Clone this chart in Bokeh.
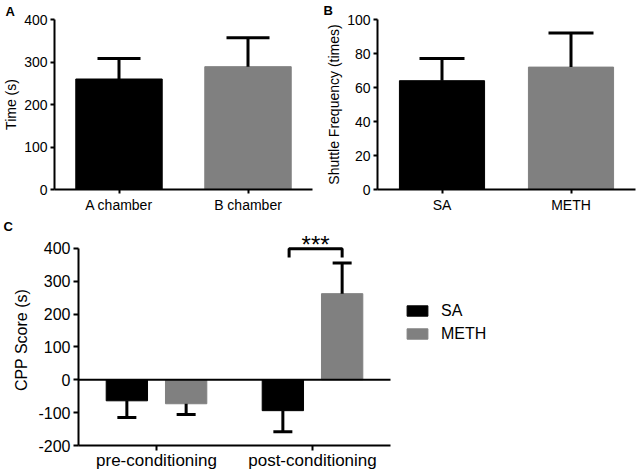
import numpy as np
from bokeh.plotting import figure
from bokeh.layouts import column, row
from bokeh.models import ColumnDataSource, FixedTicker, Legend, LegendItem, Title
from bokeh.transform import dodge
from bokeh.embed import file_html
from bokeh.resources import INLINE

FONT = "Liberation Sans"

# ---------------- data ----------------
# Panel A
a_categories = ["A chamber", "B chamber"]
a_means = [260, 289]
a_sems = [48, 68]
a_ticks = [0, 100, 200, 300, 400]

# Panel B
b_categories = ["SA", "METH"]
b_means = [64, 72]
b_sems = [13, 20]
b_ticks = [0, 20, 40, 60, 80, 100]

# Panel C
c_groups = ["pre-conditioning", "post-conditioning"]
c_series = ["SA", "METH"]
c_sa = [-64, -94]
c_sa_err = [51, 64]
c_meth = [-73, 262]
c_meth_err = [33, 93]
c_ticks = [-200, -100, 0, 100, 200, 300, 400]
c_tick_labels = ["-200", "-100", "0", "100", "200", "300", "400"]
sig_text = "***"
sig_bracket_x = [1.35, 1.69]
sig_bracket_y = [372, 399]
sig_text_y = 412

colors = ["#000000", "#808080"]


def style(p, tick_px, label_px, tick_len):
    p.outline_line_color = None
    p.xgrid.visible = False
    p.ygrid.visible = False
    p.background_fill_color = None
    p.border_fill_color = None
    for ax in (p.xaxis[0], p.yaxis[0]):
        ax.axis_line_width = 2
        ax.axis_line_color = "#000000"
        ax.major_tick_line_width = 2
        ax.major_tick_line_color = "#000000"
        ax.major_tick_in = 0
        ax.major_tick_out = tick_len
        ax.minor_tick_in = 0
        ax.minor_tick_out = 0
        ax.major_label_text_font = FONT
        ax.major_label_text_font_size = f"{tick_px}px"
        ax.major_label_text_color = "#000000"
        ax.axis_label_text_font = FONT
        ax.axis_label_text_font_size = f"{label_px}px"
        ax.axis_label_text_font_style = "normal"
        ax.axis_label_text_color = "#000000"
        ax.major_label_standoff = 3
        ax.axis_label_standoff = 2


def panel_letter(p, letter, dx_px, standoff):
    p.add_layout(Title(text=letter, align="left", offset=-dx_px,
                       standoff=standoff, vertical_align="top",
                       text_font=FONT, text_font_size="13px",
                       text_font_style="bold", text_color="#000000"), "above")


def bar_panel(cats, means, sems, ymax, ticks, ylabel, width, height,
              bl, br, bt, bb, letter, ldx, lstand, cap_px, bar_w):
    p = figure(width=width, height=height, x_range=(0, 2), y_range=(0, ymax),
               output_backend="svg", toolbar_location=None,
               min_border_left=bl, min_border_right=br,
               min_border_top=bt, min_border_bottom=bb)
    x = [i + 0.5 for i in range(len(cats))]
    src = ColumnDataSource(dict(
        x=x, top=means,
        end=[m + s for m, s in zip(means, sems)],
        color=colors[:len(cats)]))
    p.vbar(x="x", top="top", bottom=0, width=bar_w, fill_color="color",
           line_color="color", source=src)
    p.segment(x0="x", y0="top", x1="x", y1="end", line_color="#000000",
              line_width=3, source=src)
    p.scatter(x="x", y="end", marker="dash", size=cap_px, line_width=3,
              line_color="#000000", source=src)
    style(p, 14, 14, 4)
    p.xaxis[0].ticker = FixedTicker(ticks=x)
    p.xaxis[0].major_label_overrides = {xi: c for xi, c in zip(x, cats)}
    p.yaxis[0].ticker = FixedTicker(ticks=ticks)
    p.yaxis[0].axis_label = ylabel
    panel_letter(p, letter, ldx, lstand)
    return p


pa = bar_panel(a_categories, a_means, a_sems, 400, a_ticks, "Time (s)",
               320, 218, 52, 8, 17, 29, "A", 49, -2, 43, 0.67)
pb = bar_panel(b_categories, b_means, b_sems, 100, b_ticks,
               "Shuttle Frequency (times)",
               316, 218, 57, 1, 19, 27, "B", 54, -1, 45, 0.66)

# ---------------- panel C ----------------
C_W, C_H = 636, 254
C_BL, C_BR, C_BT, C_BB = 78, 5, 16, 25
c_ymax = 442
c_xmax = (C_W - C_BL - C_BR) / 156.0
pc = figure(width=C_W, height=C_H, x_range=(0, c_xmax), y_range=(c_ticks[0], c_ymax),
            output_backend="svg", toolbar_location=None,
            min_border_left=C_BL, min_border_right=C_BR,
            min_border_top=C_BT, min_border_bottom=C_BB)
gx = [i + 0.5 for i in range(len(c_groups))]
sa = np.array(c_sa, dtype=float)
me = np.array(c_meth, dtype=float)
csrc = ColumnDataSource(dict(
    x=gx, sa=sa, meth=me,
    sa_end=sa + np.sign(sa) * np.array(c_sa_err),
    meth_end=me + np.sign(me) * np.array(c_meth_err)))
off = 0.19
bw = 0.265
r_sa = pc.vbar(x=dodge("x", -off), top="sa", bottom=0, width=bw,
               fill_color=colors[0], line_color=colors[0], source=csrc)
r_me = pc.vbar(x=dodge("x", off), top="meth", bottom=0, width=bw,
               fill_color=colors[1], line_color=colors[1], source=csrc)
for d, col in ((-off, "sa"), (off, "meth")):
    pc.segment(x0=dodge("x", d), y0=col, x1=dodge("x", d), y1=col + "_end",
               line_color="#000000", line_width=3, source=csrc)
    pc.scatter(x=dodge("x", d), y=col + "_end", marker="dash", size=19,
               line_width=3, line_color="#000000", source=csrc)
# zero line
pc.segment(x0=[0], y0=[0], x1=[len(c_groups)], y1=[0], line_color="#000000",
           line_width=2)
# significance bracket
pc.line(x=[sig_bracket_x[0], sig_bracket_x[0], sig_bracket_x[1], sig_bracket_x[1]],
        y=[sig_bracket_y[0], sig_bracket_y[1], sig_bracket_y[1], sig_bracket_y[0]],
        line_color="#000000", line_width=3)
pc.text(x=[sum(sig_bracket_x) / 2], y=[sig_text_y], text=[sig_text],
        text_font={"value": FONT}, text_font_size="24px", text_align="center",
        text_baseline="alphabetic", text_color="#000000")
style(pc, 16, 16, 5)
pc.xaxis[0].ticker = FixedTicker(ticks=gx)
pc.xaxis[0].major_label_overrides = {xi: g for xi, g in zip(gx, c_groups)}
pc.xaxis[0].bounds = (0, len(c_groups))
pc.xaxis[0].major_label_standoff = 0
pc.xaxis[0].major_label_text_font_size = "17px"
pc.yaxis[0].ticker = FixedTicker(ticks=c_ticks)
pc.yaxis[0].major_label_overrides = {t: s for t, s in zip(c_ticks, c_tick_labels)}
pc.yaxis[0].bounds = (c_ticks[0], c_ticks[-1])
pc.yaxis[0].axis_label = "CPP Score (s)"
pc.yaxis[0].major_label_standoff = 3
pc.yaxis[0].axis_label_standoff = 5
legend = Legend(items=[LegendItem(label=c_series[0], renderers=[r_sa]),
                       LegendItem(label=c_series[1], renderers=[r_me])],
                location=(326, 102), border_line_color=None,
                background_fill_alpha=0, padding=0, margin=0, spacing=4,
                glyph_width=26, glyph_height=13, label_height=19,
                label_standoff=11, label_text_font=FONT,
                label_text_font_size="16px", label_text_color="#000000")
pc.add_layout(legend)
panel_letter(pc, "C", 75, -3)

layout = column(row(pa, pb), pc)
open("out.html", "w").write(file_html(layout, INLINE))
